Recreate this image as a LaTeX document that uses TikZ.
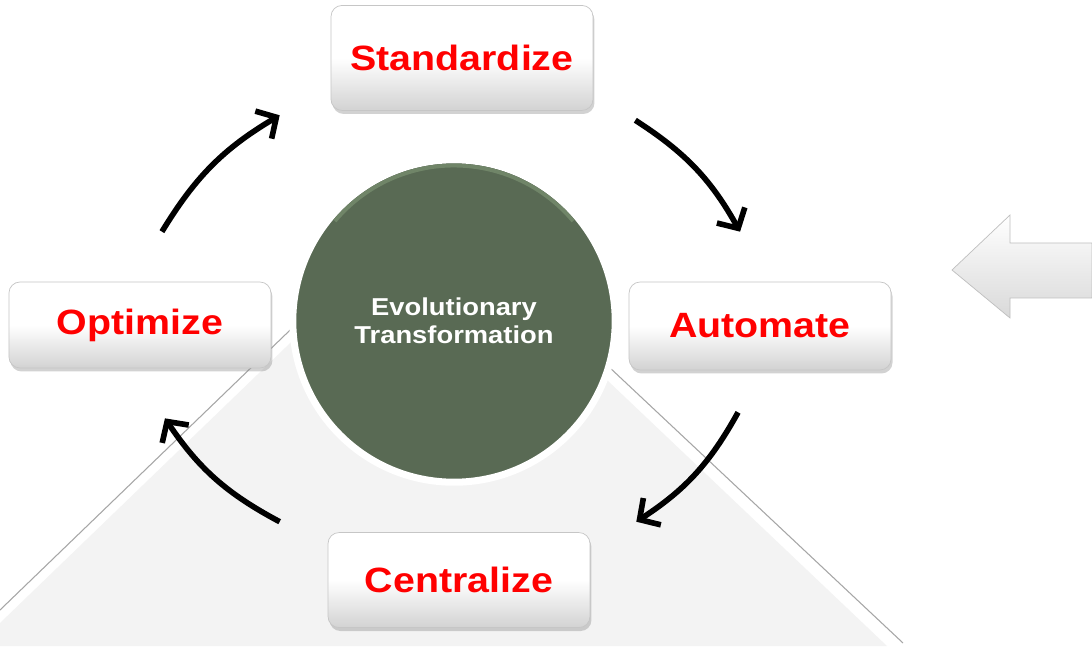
\documentclass[tikz,border=0pt]{standalone}
\usepackage{fontspec}
\setmainfont{Liberation Sans}
\newfontfamily\boxfont[FakeStretch=1.12]{Liberation Sans}
\usetikzlibrary{arrows.meta, positioning, shadows, shapes.geometric}
\definecolor{corefill}{RGB}{89,106,84}
\definecolor{corerim}{RGB}{112,133,104}
\definecolor{basefill}{RGB}{243,243,243}
\definecolor{stagered}{RGB}{255,0,0}

\begin{document}
\begin{tikzpicture}[x=0.02cm, y=0.02cm, node distance=1cm]
	
	% Define block styles
	\tikzstyle{stagebox} = [rectangle, rounded corners=0.22cm, draw=gray!45,
	top color=white, bottom color=gray!35, middle color=white,
	minimum width=5.24cm, text=stagered,
	font=\boxfont\bfseries\fontsize{20}{22}\selectfont,
	drop shadow={opacity=0.35, shadow xshift=0.03cm, shadow yshift=-0.07cm}]
	\tikzstyle{hub} = [circle, draw=white, line width=4pt, fill=corefill,
	minimum size=6.45cm, text=white, align=center,
	font=\boxfont\bfseries\fontsize{13.9}{15.9}\selectfont]
	\tikzstyle{turn} = [draw, -{Straight Barb[length=3mm, width=6.4mm]},
	line width=3.2pt, bend left=14]
	
	% Backdrop
	\fill[white] (0,0) rectangle (1092,646);
	\useasboundingbox (0,0) rectangle (1092,646);
	\fill[basefill] (0,0) -- (0,23) -- (428,436) -- (887,0) -- cycle;
	\draw[gray!70, line width=0.6pt] (0,36) -- (428,449) -- (903,3);
	
	% Nodes
	\node [hub] (core) at (454,325) {Evolutionary\\Transformation};
	\draw [corerim, line width=2.2pt] ([shift={(140:3.11cm)}]core.center) arc[start angle=140, end angle=40, radius=3.11cm];
	\node [stagebox, minimum height=2.1cm, above=0.91cm of core, xshift=0.16cm] (std) {Standardize};
	\node [stagebox, minimum height=1.72cm, left=0.36cm of core, yshift=-0.08cm] (opt) {Optimize};
	\node [stagebox, minimum height=1.76cm, right=0.2cm of core, yshift=-0.1cm] (aut) {Automate};
	\node [stagebox, minimum height=1.9cm, below=0.93cm of core, xshift=0.1cm] (cen) {Centralize};
	
	% Paths
	\draw [turn] ([xshift=0.44cm, yshift=1.0cm]opt.north) to ([xshift=-1.02cm, yshift=-0.09cm]std.south west);
	\draw [turn] ([xshift=0.84cm, yshift=-0.19cm]std.south east) to ([xshift=-0.4cm, yshift=1.0cm]aut.north);
	\draw [turn] ([xshift=-0.44cm, yshift=-0.84cm]aut.south) to ([xshift=0.92cm, yshift=0.21cm]cen.north east);
	\draw [turn] ([xshift=-0.96cm, yshift=0.21cm]cen.north west) to ([xshift=0.5cm, yshift=-1.0cm]opt.south);
	
	% Side arrow
	\draw [gray!50, top color=white, bottom color=gray!30]
	(952,376) -- (1010,431) -- (1010,403) -- (1092,403) -- (1092,348) -- (1010,348) -- (1010,328) -- cycle;
\end{tikzpicture}
\end{document}
